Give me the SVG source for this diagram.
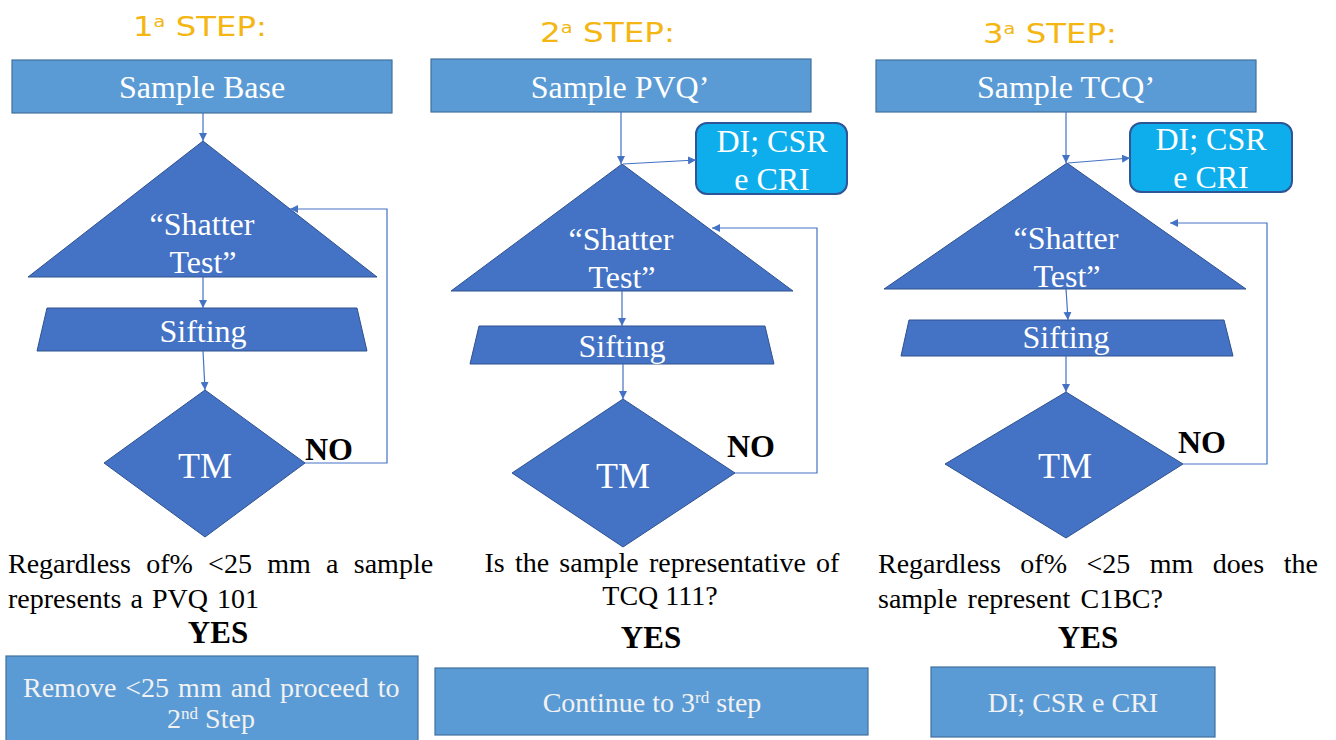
<svg xmlns="http://www.w3.org/2000/svg" width="1336" height="740" viewBox="0 0 1336 740">
<style>
.title{font-family:"DejaVu Sans",sans-serif;font-size:27px;fill:#F4B612;font-weight:normal}
.box{fill:#5B9BD5;stroke:#41719C;stroke-width:1.2}
.dark{fill:#4472C4;stroke:#2F528F;stroke-width:1}
.di{fill:#0DAEEB;stroke:#2F5597;stroke-width:2}
.wt{font-family:"Liberation Serif","Times New Roman",serif;fill:#FFFFFF;text-anchor:middle}
.lt{font-family:"Liberation Serif","Times New Roman",serif;fill:#F2F2F2;font-size:28px}
.bt{font-family:"Liberation Serif","Times New Roman",serif;fill:#000;font-size:28px}
.bold{font-family:"Liberation Serif","Times New Roman",serif;font-weight:bold;fill:#000}
.conn{fill:none;stroke:#4472C4;stroke-width:1.2}
</style>
<defs>
<marker id="arr" viewBox="0 0 10 10" refX="10" refY="5" markerWidth="8" markerHeight="8" markerUnits="userSpaceOnUse" orient="auto">
<path d="M0,0 L10,5 L0,10 z" fill="#4472C4"/>
</marker>
</defs>

<!-- Titles -->
<text class="title" x="133" y="36" textLength="134" lengthAdjust="spacingAndGlyphs">1<tspan font-size="16" baseline-shift="55%">a</tspan> STEP:</text>
<text class="title" x="540" y="42" textLength="135" lengthAdjust="spacingAndGlyphs">2<tspan font-size="16" baseline-shift="55%">a</tspan> STEP:</text>
<text class="title" x="983" y="43" textLength="134" lengthAdjust="spacingAndGlyphs">3<tspan font-size="16" baseline-shift="55%">a</tspan> STEP:</text>

<!-- STEP 1 -->
<g id="s1-sample">
<rect class="box" x="12" y="60" width="380" height="53"/>
<text class="wt" x="202" y="98" font-size="32">Sample Base</text>
</g>
<g id="s1-shatter">
<polygon class="dark" points="203,141 377,277 28,277"/>
<text class="wt" x="202" y="235" font-size="32">“Shatter</text>
<text class="wt" x="203" y="273" font-size="32">Test”</text>
</g>
<g id="s1-sifting">
<polygon class="dark" points="47,308 357,308 367,351 37,351"/>
<text class="wt" x="203" y="342" font-size="32">Sifting</text>
</g>
<g id="s1-tm">
<polygon class="dark" points="205,390 305,463 205,537 104,463"/>
<text class="wt" x="205" y="478" font-size="36">TM</text>
</g>
<text class="bold" x="305" y="460" font-size="32">NO</text>
<text class="bt" x="8" y="573" word-spacing="8.3">Regardless of% &lt;25 mm a sample</text>
<text class="bt" x="8" y="608" word-spacing="2">represents a PVQ 101</text>
<text class="bold" x="218" y="643" font-size="31" text-anchor="middle">YES</text>
<g id="s1-result">
<rect class="box" x="6" y="656" width="412" height="90"/>
<text class="lt" x="23" y="697" word-spacing="2">Remove &lt;25 mm and proceed to</text>
<text class="lt" x="211" y="728" text-anchor="middle">2<tspan font-size="17" baseline-shift="super">nd</tspan> Step</text>
</g>

<!-- STEP 2 -->
<g id="s2-sample">
<rect class="box" x="431" y="59" width="380" height="53"/>
<text class="wt" x="620" y="98" font-size="32">Sample PVQ’</text>
</g>
<g id="s2-di">
<rect class="di" x="696" y="123" width="151" height="71" rx="11"/>
<text class="wt" x="772" y="152" font-size="32">DI; CSR</text>
<text class="wt" x="772" y="190" font-size="32">e CRI</text>
</g>
<g id="s2-shatter">
<polygon class="dark" points="622,164 793,291 451,291"/>
<text class="wt" x="621" y="250" font-size="32">“Shatter</text>
<text class="wt" x="622" y="288" font-size="32">Test”</text>
</g>
<g id="s2-sifting">
<polygon class="dark" points="479,326 765,326 774,364 470,364"/>
<text class="wt" x="622" y="357" font-size="32">Sifting</text>
</g>
<g id="s2-tm">
<polygon class="dark" points="623,399 735,473 623,547 512,473"/>
<text class="wt" x="623" y="488" font-size="36">TM</text>
</g>
<text class="bold" x="727" y="457" font-size="32">NO</text>
<text class="bt" x="662" y="572" text-anchor="middle" word-spacing="3.2">Is the sample representative of</text>
<text class="bt" x="660" y="605" text-anchor="middle">TCQ 111?</text>
<text class="bold" x="651" y="648" font-size="31" text-anchor="middle">YES</text>
<g id="s2-result">
<rect class="box" x="435" y="668" width="433" height="67"/>
<text class="lt" x="652" y="712" text-anchor="middle">Continue to 3<tspan font-size="17" baseline-shift="super">rd</tspan> step</text>
</g>

<!-- STEP 3 -->
<g id="s3-sample">
<rect class="box" x="876" y="60" width="380" height="52"/>
<text class="wt" x="1066" y="98" font-size="32">Sample TCQ’</text>
</g>
<g id="s3-di">
<rect class="di" x="1130" y="123" width="162" height="69" rx="11"/>
<text class="wt" x="1211" y="150" font-size="32">DI; CSR</text>
<text class="wt" x="1211" y="188" font-size="32">e CRI</text>
</g>
<g id="s3-shatter">
<polygon class="dark" points="1067,163 1246,289 884,289"/>
<text class="wt" x="1066" y="249" font-size="32">“Shatter</text>
<text class="wt" x="1067" y="287" font-size="32">Test”</text>
</g>
<g id="s3-sifting">
<polygon class="dark" points="909,320 1224,320 1233,356 901,356"/>
<text class="wt" x="1066" y="348" font-size="32">Sifting</text>
</g>
<g id="s3-tm">
<polygon class="dark" points="1066,392 1183,464 1066,538 945,464"/>
<text class="wt" x="1065" y="478" font-size="36">TM</text>
</g>
<text class="bold" x="1178" y="453" font-size="32">NO</text>
<text class="bt" x="878" y="573" word-spacing="12.5">Regardless of% &lt;25 mm does the</text>
<text class="bt" x="878" y="608" word-spacing="3.3">sample represent C1BC?</text>
<text class="bold" x="1088" y="648" font-size="31" text-anchor="middle">YES</text>
<g id="s3-result">
<rect class="box" x="931" y="667" width="284" height="70"/>
<text class="lt" x="1073" y="712" text-anchor="middle">DI; CSR e CRI</text>
</g>

<!-- Connectors -->
<g id="connectors">
<path class="conn" d="M203,113 V141" marker-end="url(#arr)"/>
<path class="conn" d="M203,277 V308" marker-end="url(#arr)"/>
<path class="conn" d="M203,351 L205,390" marker-end="url(#arr)"/>
<path class="conn" d="M305,463 H387 V209 H290" marker-end="url(#arr)"/>

<path class="conn" d="M621,112 V164" marker-end="url(#arr)"/>
<path class="conn" d="M623,164 L696,160" marker-end="url(#arr)"/>
<path class="conn" d="M622,291 V326" marker-end="url(#arr)"/>
<path class="conn" d="M623,364 V399" marker-end="url(#arr)"/>
<path class="conn" d="M735,473 H817 V228 H712" marker-end="url(#arr)"/>

<path class="conn" d="M1066,112 V163" marker-end="url(#arr)"/>
<path class="conn" d="M1068,163 L1130,158" marker-end="url(#arr)"/>
<path class="conn" d="M1066,289 L1068,320" marker-end="url(#arr)"/>
<path class="conn" d="M1066,356 V392" marker-end="url(#arr)"/>
<path class="conn" d="M1183,464 H1267 V223 H1170" marker-end="url(#arr)"/>
</g>
</svg>
